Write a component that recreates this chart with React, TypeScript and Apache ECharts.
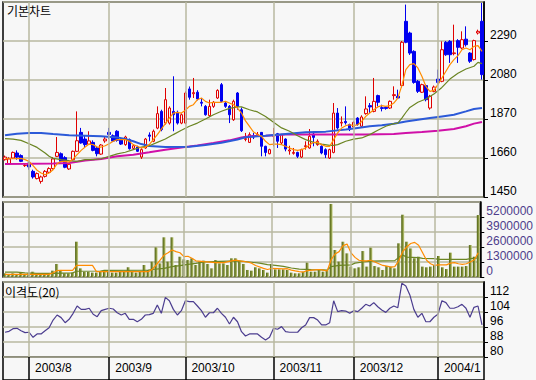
import React, { useEffect, useRef } from "react";
import * as echarts from "echarts";

// ---- price candles (one per trading day, 2003/7 .. 2004/1) ----
const openP = [
  1651, 1629, 1660, 1687, 1673, 1619, 1633, 1588, 1549, 1534,
  1561, 1583, 1603, 1669, 1683, 1662, 1601, 1651, 1696, 1798,
  1762, 1734, 1744, 1714, 1681, 1752, 1798, 1780, 1804, 1759,
  1732, 1759, 1712, 1719, 1665, 1714, 1784, 1750, 1821, 1911,
  1848, 1848, 1911, 1906, 1848, 1848, 2032, 2006, 2014, 1960,
  1938, 1888, 1938, 1983, 2055, 1956, 1938, 1866, 2010, 1920,
  1760, 1744, 1780, 1780, 1798, 1723, 1683, 1777, 1791, 1741,
  1762, 1698, 1685, 1690, 1665, 1721, 1714, 1789, 1732, 1723,
  1705, 1660, 1690, 1902, 1848, 1857, 1840, 1827, 1875, 1831,
  1899, 1942, 1911, 1996, 1931, 1933, 1929, 1996, 1992, 2050,
  2396, 2333, 2234, 2073, 2014, 2050, 1929, 2019, 2085, 2073,
  2283, 2288, 2222, 2292, 2252, 2300, 2225, 2190, 2333, 2396,
];
const closeP = [
  1665, 1655, 1690, 1665, 1642, 1621, 1612, 1558, 1576, 1558,
  1588, 1603, 1655, 1690, 1642, 1610, 1626, 1696, 1753, 1741,
  1732, 1752, 1701, 1683, 1730, 1762, 1787, 1751, 1755, 1735,
  1773, 1710, 1726, 1696, 1705, 1762, 1777, 1804, 1899, 1813,
  1974, 1929, 1893, 1848, 1893, 2010, 1987, 2012, 1978, 1955,
  1893, 1938, 1960, 2024, 1965, 1938, 1893, 1965, 1938, 1807,
  1764, 1786, 1773, 1787, 1723, 1690, 1705, 1782, 1750, 1786,
  1708, 1703, 1690, 1669, 1705, 1726, 1777, 1771, 1750, 1687,
  1678, 1705, 1902, 1822, 1852, 1850, 1813, 1852, 1840, 1881,
  1924, 1935, 1965, 1960, 1927, 1927, 1965, 2001, 1983, 2283,
  2283, 2225, 2067, 2019, 2055, 1974, 1992, 2042, 2067, 2243,
  2216, 2216, 2226, 2256, 2297, 2270, 2181, 2292, 2342, 2109,
];
const lowP = [
  1646, 1624, 1656, 1651, 1638, 1612, 1597, 1549, 1545, 1522,
  1555, 1578, 1598, 1665, 1637, 1605, 1596, 1647, 1692, 1737,
  1714, 1730, 1696, 1669, 1677, 1742, 1762, 1746, 1748, 1730,
  1726, 1705, 1705, 1692, 1655, 1710, 1750, 1745, 1815, 1804,
  1840, 1840, 1804, 1840, 1842, 1842, 1974, 1983, 1970, 1938,
  1888, 1880, 1930, 1978, 1960, 1930, 1848, 1860, 1920, 1800,
  1750, 1741, 1762, 1773, 1669, 1669, 1680, 1723, 1714, 1735,
  1696, 1678, 1678, 1660, 1660, 1705, 1710, 1723, 1726, 1680,
  1660, 1655, 1685, 1813, 1830, 1840, 1805, 1822, 1834, 1827,
  1893, 1902, 1906, 1938, 1911, 1920, 1924, 1974, 1978, 2040,
  2278, 2215, 2060, 2010, 2010, 1965, 1920, 2014, 2060, 2068,
  2210, 2172, 2213, 2172, 2245, 2260, 2172, 2185, 2325, 2082,
];
const highP = [
  1673, 1664, 1695, 1701, 1680, 1633, 1637, 1597, 1582, 1565,
  1595, 1610, 1665, 1773, 1690, 1670, 1632, 1700, 1911, 1822,
  1780, 1804, 1755, 1720, 1735, 1773, 1822, 1787, 1810, 1765,
  1780, 1765, 1733, 1726, 1712, 1768, 1798, 1813, 1938, 1920,
  2037, 1938, 2100, 1915, 1900, 2019, 2045, 2091, 2025, 1983,
  1945, 1974, 1967, 2030, 2064, 1965, 1945, 1974, 2015, 1932,
  1795, 1798, 1795, 1800, 1800, 1726, 1710, 1822, 1795, 1790,
  1766, 1726, 1714, 1694, 1710, 1750, 1816, 1804, 1760, 1728,
  1712, 1710, 1956, 1929, 1884, 1938, 1845, 1857, 1880, 1890,
  1992, 1956, 2091, 2001, 1947, 1940, 1970, 2046, 2028, 2290,
  2486, 2340, 2240, 2080, 2060, 2055, 2000, 2050, 2136, 2288,
  2290, 2295, 2378, 2300, 2342, 2369, 2230, 2297, 2351, 2495,
];

// ---- moving averages ----
const ma5 = [
  1656, 1656, 1656, 1657, 1658, 1651, 1642, 1619, 1594, 1579,
  1570, 1579, 1597, 1629, 1642, 1642, 1638, 1655, 1678, 1701,
  1719, 1735, 1732, 1719, 1719, 1726, 1737, 1750, 1759, 1759,
  1759, 1750, 1732, 1723, 1714, 1719, 1732, 1759, 1786, 1816,
  1845, 1875, 1902, 1906, 1902, 1917, 1938, 1947, 1974, 1983,
  1965, 1956, 1960, 1960, 1960, 1965, 1956, 1947, 1929, 1902,
  1860, 1830, 1800, 1786, 1777, 1750, 1732, 1735, 1735, 1732,
  1723, 1714, 1705, 1701, 1705, 1714, 1732, 1744, 1744, 1732,
  1723, 1723, 1759, 1795, 1822, 1834, 1839, 1834, 1839, 1857,
  1884, 1902, 1920, 1935, 1942, 1938, 1942, 1956, 1983, 2050,
  2136, 2163, 2168, 2145, 2100, 2046, 2019, 2024, 2055, 2091,
  2127, 2163, 2190, 2211, 2243, 2252, 2243, 2261, 2265, 2234,
];
const ma20Pts = [
  [0, 1764], [2, 1762], [4, 1755], [6, 1737], [8, 1717], [10, 1687], [11, 1669], [12, 1658],
  [14, 1651], [16, 1646], [18, 1642], [20, 1651], [22, 1651], [24, 1656], [26, 1669], [28, 1682],
  [30, 1691], [32, 1705], [34, 1719], [36, 1726], [38, 1744], [40, 1762], [42, 1786], [44, 1809],
  [46, 1831], [48, 1848], [50, 1870], [52, 1893], [54, 1912], [56, 1927], [58, 1935], [59, 1935],
  [61, 1920], [63, 1908], [65, 1884], [67, 1852], [69, 1822], [71, 1804], [73, 1780], [75, 1759],
  [77, 1744], [79, 1735], [81, 1728], [82, 1728], [83, 1732], [85, 1750], [87, 1762], [89, 1768],
  [91, 1786], [93, 1809], [95, 1831], [97, 1845], [98, 1848], [99, 1875], [100, 1905], [101, 1932],
  [103, 1960], [105, 1978], [107, 2005], [109, 2040], [111, 2085], [113, 2116], [115, 2139],
  [117, 2154], [118, 2175], [119, 2168],
];
const ma60Pts = [
  [0, 1782], [3, 1791], [6, 1795], [9, 1795], [12, 1789], [16, 1782], [20, 1780], [24, 1777],
  [28, 1771], [30, 1762], [32, 1750], [34, 1735], [36, 1725], [40, 1719], [46, 1721], [50, 1730],
  [54, 1742], [58, 1760], [60, 1772], [65, 1780], [70, 1789], [75, 1798], [80, 1802], [85, 1813],
  [88, 1822], [91, 1831], [94, 1836], [97, 1845], [100, 1857], [103, 1866], [106, 1875],
  [109, 1884], [112, 1893], [115, 1911], [117, 1924], [119, 1929],
];
const ma120Pts = [
  [0, 1628], [6, 1629], [12, 1631], [16, 1633], [20, 1646], [24, 1655], [28, 1669], [32, 1678],
  [36, 1691], [40, 1705], [44, 1717], [48, 1728], [52, 1741], [56, 1755], [59, 1770], [61, 1777],
  [65, 1780], [70, 1786], [80, 1786], [90, 1786], [97, 1789], [100, 1795], [104, 1800],
  [108, 1807], [112, 1816], [115, 1831], [117, 1845], [119, 1854],
];

// ---- volume (millions of shares) ----
const volumeM = [
  0.32, 0.26, 0.32, 0.26, 0.38, 0.26, 0.32, 0.46, 0.26, 0.26, 0.26, 0.32, 0.55, 1.13, 0.61, 0.32, 0.32, 0.38, 3.06, 0.75,
  0.46, 0.46, 0.38, 0.38, 0.46, 0.61, 0.46, 0.38, 0.38, 0.46, 0.46, 0.84, 0.46, 0.38, 0.46, 1.04, 0.61, 1.33, 2.57, 1.18,
  3.44, 1.33, 3.44, 1.04, 1.76, 1.53, 1.47, 1.62, 1.04, 1.33, 1.42, 1.13, 0.75, 1.47, 1.18, 1.18, 1.04, 1.62, 1.62, 1.42,
  1.13, 0.61, 0.55, 0.84, 0.75, 0.61, 0.38, 1.13, 0.66, 0.66, 0.66, 0.61, 0.38, 0.32, 0.32, 0.46, 1.24, 0.46, 0.46, 0.61,
  0.46, 0.61, 6.33, 2.34, 1.33, 3.06, 2.05, 0.90, 0.75, 0.84, 2.25, 0.90, 2.54, 0.95, 0.84, 0.61, 0.95, 0.90, 0.75, 2.92,
  5.40, 3.06, 2.48, 1.62, 1.76, 0.90, 0.84, 0.90, 1.04, 1.82, 0.84, 0.69, 2.11, 0.90, 0.90, 0.90, 0.95, 2.77, 1.76, 5.37,
];
const volMa5Pts = [
  [0, 0.23], [5, 0.23], [11, 0.23], [12, 0.35], [13, 0.55], [14, 0.58], [17, 0.58], [18, 1.01], [22, 1.01],
  [23, 0.46], [36, 0.46], [37, 0.66], [38, 1.04], [39, 1.47], [40, 1.9], [41, 2.1], [42, 2.34], [43, 2.2],
  [44, 2.1], [45, 1.76], [46, 1.8], [47, 1.62], [48, 1.4], [50, 1.33], [53, 1.25], [55, 1.24], [57, 1.4],
  [58, 1.47], [59, 1.4], [61, 1.3], [62, 1.2], [63, 1.0], [65, 0.75], [66, 0.65], [67, 0.74], [70, 0.7],
  [71, 0.72], [72, 0.6], [73, 0.53], [74, 0.47], [75, 0.43], [76, 0.55], [78, 0.62], [79, 0.65], [80, 0.6],
  [81, 0.52], [82, 1.5], [83, 2.0], [84, 2.2], [85, 2.72], [86, 2.85], [87, 2.1], [88, 1.7], [89, 1.45],
  [90, 1.4], [91, 1.4], [92, 1.45], [93, 1.3], [94, 1.15], [95, 1.0], [96, 0.95], [97, 0.85], [98, 0.9],
  [99, 1.4], [100, 2.2], [101, 2.6], [102, 2.9], [103, 3.0], [104, 2.75], [105, 2.1], [106, 1.45],
  [107, 1.15], [108, 1.0], [109, 1.05], [110, 1.05], [111, 1.05], [112, 1.2], [113, 1.25], [114, 1.15],
  [115, 1.1], [116, 1.15], [117, 1.3], [118, 1.5], [119, 2.1],
];
const volMa20Pts = [
  [0, 0.43], [3, 0.43], [5, 0.36], [8, 0.32], [12, 0.32], [17, 0.36], [18, 0.5], [24, 0.52], [25, 0.58],
  [36, 0.6], [37, 0.65], [40, 0.75], [42, 0.9], [44, 0.98], [46, 1.1], [48, 1.18], [50, 1.3], [54, 1.35],
  [58, 1.4], [60, 1.36], [62, 1.28], [64, 1.2], [66, 1.08], [68, 1.0], [70, 0.92], [72, 0.78], [74, 0.68],
  [77, 0.64], [80, 0.61], [81, 0.6], [82, 0.9], [84, 1.0], [87, 1.05], [88, 1.2], [90, 1.3], [92, 1.38],
  [98, 1.42], [99, 1.7], [100, 1.9], [101, 1.72], [104, 1.68], [105, 1.62], [108, 1.6], [109, 1.53],
  [116, 1.53], [117, 1.6], [119, 1.65],
];

// ---- disparity (20) ----
const disparity = [
  93.2, 93.7, 95.1, 95.3, 94.0, 93.0, 93.2, 90.5, 92.3, 92.3, 94.0, 95.6, 99.7, 102.4, 101.0, 98.3, 100.1, 103.3, 107.2, 105.4,
  105.4, 106.0, 102.8, 101.5, 104.7, 105.4, 106.0, 105.6, 103.6, 102.4, 103.3, 100.1, 100.1, 98.8, 100.1, 102.4, 102.6, 103.3, 107.7, 103.3,
  111.8, 110.0, 105.4, 102.4, 104.7, 110.0, 109.5, 109.5, 107.2, 104.7, 101.2, 103.6, 103.6, 106.0, 103.3, 101.2, 97.6, 101.2, 98.8, 93.5,
  91.2, 92.3, 92.3, 92.3, 90.5, 89.1, 90.5, 95.3, 94.8, 96.2, 93.5, 93.2, 93.2, 93.2, 95.6, 97.1, 101.0, 101.0, 99.7, 97.1,
  97.1, 98.3, 110.0, 104.2, 104.7, 104.5, 103.3, 104.7, 104.2, 106.0, 108.1, 107.2, 109.0, 106.8, 105.1, 103.8, 106.0, 107.2, 106.3, 119.3,
  117.9, 113.1, 105.4, 101.2, 103.3, 98.8, 98.8, 101.2, 102.8, 110.0, 109.0, 106.0, 106.0, 106.8, 108.1, 106.0, 101.2, 106.5, 107.2, 97.1,
];

// ---- months ----
const monthStartIdx = [6, 26, 45, 67, 87, 108];
const monthLabels = ["2003/8", "2003/9", "2003/10", "2003/11", "2003/12", "2004/1"];

// ---- axis scales ----
const priceAxis = { min: 1450, max: 2500, interval: 210 };
const volAxis = { min: 0, max: 6500000, interval: 1300000 };
const dispAxis = { min: 80, max: 120, interval: 8 };

const NUM_FONT = "'Liberation Sans Narrow', 'Liberation Sans', Arial, sans-serif";
const KO_FONT = "'Noto Sans CJK KR', 'Noto Sans', sans-serif";
const GRID_COLOR = "#b8b8a0";
const BG = "#f7f7f7";

export default function App() {
  const ref = useRef<HTMLDivElement>(null);

  useEffect(() => {
    if (!ref.current) return;
    const chart = echarts.init(ref.current, null, { renderer: "svg" });
    const cats = closeP.map((_, i) => "d" + i);
    const ohlc = closeP.map((c, i) => [openP[i], c, lowP[i], highP[i]]);
    const mil = (pts: number[][]) => pts.map(([i, v]) => [i, v * 1e6]);

    const monthMark = (color: string, width: number) => ({
      silent: true,
      symbol: ["none", "none"],
      label: { show: false },
      emphasis: { disabled: true },
      animation: false,
      lineStyle: { color, width, type: "solid" },
      data: monthStartIdx.map((i) => ({ xAxis: cats[i] })),
    });

    const gridBase = {
      left: 3,
      right: 52,
      show: true,
      backgroundColor: BG,
      borderColor: "#000",
      borderWidth: 1.5,
      containLabel: false,
    };

    const xBase = (gridIndex: number) => ({
      type: "category",
      gridIndex,
      data: cats,
      boundaryGap: true,
      axisLine: { show: false },
      axisTick: { show: false },
      axisLabel: { show: false },
      splitLine: { show: false },
    });

    const yBase = (gridIndex: number, sc: { min: number; max: number; interval: number }, labelColor: string) => ({
      type: "value",
      gridIndex,
      position: "right",
      min: sc.min,
      max: sc.max,
      interval: sc.interval,
      axisLine: { show: true, lineStyle: { color: "#000", width: 1.5 } },
      axisTick: { show: true, length: 4, lineStyle: { color: "#000", width: 1 } },
      axisLabel: {
        show: true,
        color: labelColor,
        fontSize: 12,
        fontFamily: NUM_FONT,
        margin: 6,
        verticalAlign: "bottom",
        showMaxLabel: false,
        formatter: (v: number) => String(v),
      },
      splitLine: { show: true, lineStyle: { color: GRID_COLOR, width: 1.5 } },
    });

    const lineBase = (xi: number, yi: number, data: any, color: string, width: number) => ({
      type: "line",
      xAxisIndex: xi,
      yAxisIndex: yi,
      data,
      showSymbol: false,
      symbol: "none",
      silent: true,
      lineStyle: { color, width },
    });

    const option: any = {
      animation: false,
      backgroundColor: BG,
      title: [
        {
          text: "기본차트",
          left: 7,
          top: 4,
          padding: 0,
          textStyle: { fontSize: 12, fontWeight: "normal", color: "#000", fontFamily: KO_FONT },
        },
        {
          text: "이격도(20)",
          left: 5,
          top: 285,
          padding: 0,
          textStyle: { fontSize: 12, fontWeight: "normal", color: "#000", fontFamily: KO_FONT },
        },
      ],
      grid: [
        { ...gridBase, top: 2, height: 195 },
        { ...gridBase, top: 202, height: 75 },
        { ...gridBase, top: 282, height: 75 },
        { ...gridBase, top: 357, height: 26 },
      ],
      xAxis: [
        xBase(0),
        xBase(1),
        xBase(2),
        {
          ...xBase(3),
          position: "top",
          axisLabel: {
            show: true,
            inside: true,
            margin: 5,
            align: "left",
            verticalAlign: "top",
            padding: [0, 0, 0, 6],
            color: "#000",
            fontSize: 12,
            fontFamily: NUM_FONT,
            interval: (index: number) => monthStartIdx.indexOf(index) >= 0,
            formatter: (_v: string, index: number) => {
              const k = monthStartIdx.indexOf(index);
              return k >= 0 ? monthLabels[k] : "";
            },
          },
        },
      ],
      yAxis: [
        yBase(0, priceAxis, "#000"),
        yBase(1, volAxis, "#4e3d8c"),
        yBase(2, dispAxis, "#000"),
        {
          type: "value",
          gridIndex: 3,
          show: false,
          min: 0,
          max: 1,
          splitLine: { show: false },
        },
      ],
      series: [
        // month grid lines
        { type: "line", xAxisIndex: 0, yAxisIndex: 0, data: [], markLine: monthMark(GRID_COLOR, 1.5), z: 1 },
        { type: "line", xAxisIndex: 1, yAxisIndex: 1, data: [], markLine: monthMark(GRID_COLOR, 1.5), z: 1 },
        { type: "line", xAxisIndex: 2, yAxisIndex: 2, data: [], markLine: monthMark(GRID_COLOR, 1.5), z: 1 },
        { type: "line", xAxisIndex: 3, yAxisIndex: 3, data: [], markLine: monthMark("#000", 1.5), z: 1 },
        // candles
        {
          type: "candlestick",
          xAxisIndex: 0,
          yAxisIndex: 0,
          data: ohlc,
          barWidth: 3,
          silent: true,
          itemStyle: {
            color: BG,
            color0: "#0000f0",
            borderColor: "#e00000",
            borderColor0: "#0000f0",
            borderWidth: 1,
          },
        },
        lineBase(0, 0, ma120Pts, "#d010a8", 2),
        lineBase(0, 0, ma60Pts, "#2c5ad8", 2),
        lineBase(0, 0, ma20Pts, "#6b8523", 1.2),
        lineBase(0, 0, ma5, "#ff8c00", 1.2),
        // volume
        {
          type: "bar",
          xAxisIndex: 1,
          yAxisIndex: 1,
          data: volumeM.map((v) => v * 1e6),
          barWidth: 3,
          silent: true,
          itemStyle: {
            color: new echarts.graphic.LinearGradient(0, 0, 1, 0, [
              { offset: 0, color: "#4f6014" },
              { offset: 0.5, color: "#7c8c34" },
              { offset: 1, color: "#cdd58f" },
            ]),
          },
        },
        lineBase(1, 1, mil(volMa20Pts), "#6b8523", 1.2),
        lineBase(1, 1, mil(volMa5Pts), "#ff8c00", 1.2),
        // disparity
        lineBase(2, 2, disparity, "#4b3d8f", 1.2),
      ],
    };

    chart.setOption(option);
    return () => chart.dispose();
  }, []);

  return (
    <div
      ref={ref}
      style={{ position: "fixed", left: 0, top: 0, width: 536, height: 380, background: BG }}
    />
  );
}
